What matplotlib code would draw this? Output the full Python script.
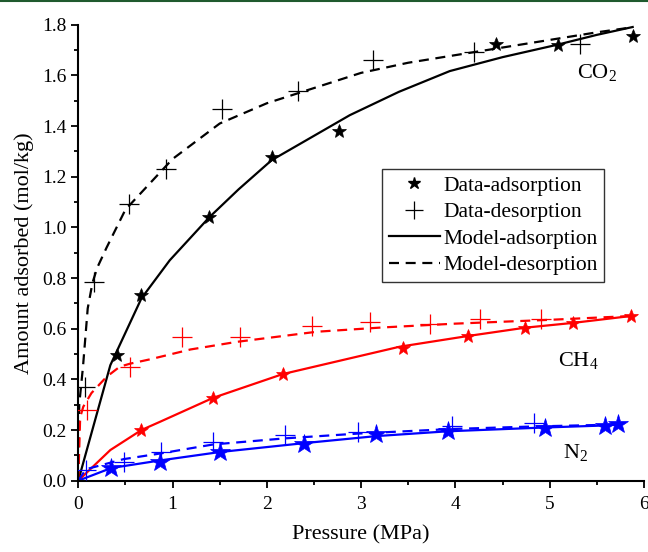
import numpy as np
import matplotlib
matplotlib.use("Agg")
import matplotlib.pyplot as plt
from matplotlib.lines import Line2D
from matplotlib.ticker import MultipleLocator, FormatStrFormatter

plt.rcParams['font.family'] = ['Liberation Serif', 'DejaVu Serif']
plt.rcParams['mathtext.fontset'] = 'custom'
plt.rcParams['mathtext.rm'] = 'Liberation Serif'

# ---- measured data (pressure in MPa, amount in mol/kg) ----
co2_ads_p = [0.41, 0.67, 1.39, 2.05, 2.76, 4.43, 5.09, 5.88]
co2_ads_q = [0.495, 0.735, 1.04, 1.278, 1.38, 1.725, 1.721, 1.756]
co2_des_p = [0.07, 0.17, 0.54, 0.93, 1.52, 2.33, 3.13, 4.20, 5.32]
co2_des_q = [0.371, 0.785, 1.092, 1.23, 1.467, 1.537, 1.662, 1.692, 1.725]

ch4_ads_p = [0.67, 1.43, 2.17, 3.44, 4.13, 4.74, 5.25, 5.86]
ch4_ads_q = [0.20, 0.327, 0.421, 0.525, 0.571, 0.604, 0.623, 0.650]
ch4_des_p = [0.09, 0.55, 1.10, 1.71, 2.48, 3.09, 3.73, 4.26, 4.91]
ch4_des_q = [0.279, 0.447, 0.568, 0.566, 0.61, 0.627, 0.617, 0.638, 0.638]

n2_ads_p = [0.35, 0.87, 1.50, 2.39, 3.16, 3.92, 4.95, 5.59, 5.72]
n2_ads_q = [0.05, 0.073, 0.114, 0.145, 0.184, 0.196, 0.207, 0.216, 0.222]
n2_des_p = [0.08, 0.48, 0.88, 1.43, 2.19, 2.97, 3.96, 4.83]
n2_des_q = [0.042, 0.072, 0.112, 0.154, 0.18, 0.193, 0.216, 0.226]

# ---- model curves ----
co2_mads_p = [0, 0.34, 0.67, 0.97, 1.39, 1.7, 2.05, 2.4, 2.88, 3.4, 3.94, 4.5, 5.08, 5.5, 5.88]
co2_mads_q = [0, 0.456, 0.72, 0.87, 1.04, 1.15, 1.265, 1.34, 1.443, 1.535, 1.617, 1.672, 1.721, 1.76, 1.791]
co2_mdes_p = [0, 0.01, 0.05, 0.1, 0.15, 0.2, 0.3, 0.5, 0.75, 1.0, 1.5, 2.0, 2.5, 3.0, 3.5, 4.0, 4.5, 5.0, 5.5, 5.88]
co2_mdes_q = [0, 0.30, 0.45, 0.68, 0.78, 0.84, 0.92, 1.07, 1.17, 1.27, 1.41, 1.49, 1.55, 1.61, 1.65, 1.68, 1.71, 1.74, 1.77, 1.79]

ch4_mads_p = [0, 0.34, 0.67, 0.87, 1.43, 2.17, 3.41, 4.13, 4.74, 5.25, 5.86]
ch4_mads_q = [0, 0.121, 0.20, 0.233, 0.327, 0.421, 0.529, 0.571, 0.604, 0.623, 0.650]
ch4_mdes_p = [0, 0.02, 0.053, 0.14, 0.30, 0.44, 0.55, 0.76, 1.19, 1.68, 2.53, 3.23, 4.0, 5.0, 5.86]
ch4_mdes_q = [0, 0.25, 0.292, 0.346, 0.41, 0.45, 0.462, 0.479, 0.518, 0.548, 0.588, 0.605, 0.62, 0.635, 0.65]

n2_mads_p = [0, 0.35, 0.87, 1.50, 2.39, 3.16, 3.92, 4.95, 5.59, 5.75]
n2_mads_q = [0, 0.05, 0.08, 0.113, 0.148, 0.176, 0.195, 0.21, 0.218, 0.222]
n2_mdes_p = [0, 0.08, 0.48, 0.88, 1.43, 2.19, 2.97, 3.96, 4.83, 5.75]
n2_mdes_q = [0, 0.045, 0.085, 0.108, 0.143, 0.167, 0.186, 0.204, 0.214, 0.222]

gases = [
    # label, colour, star size, plus size, data + model arrays, label position
    ('CO$_2$', 'black', 10, 14, co2_ads_p, co2_ads_q, co2_des_p, co2_des_q,
     co2_mads_p, co2_mads_q, co2_mdes_p, co2_mdes_q, (5.5, 1.61)),
    ('CH$_4$', 'red', 10, 15, ch4_ads_p, ch4_ads_q, ch4_des_p, ch4_des_q,
     ch4_mads_p, ch4_mads_q, ch4_mdes_p, ch4_mdes_q, (5.3, 0.47)),
    ('N$_2$', 'blue', 15, 14, n2_ads_p, n2_ads_q, n2_des_p, n2_des_q,
     n2_mads_p, n2_mads_q, n2_mdes_p, n2_mdes_q, (5.27, 0.11)),
]

fig = plt.figure(figsize=(6.48, 5.52), dpi=100)
ax = fig.add_axes([0.1208, 0.1292, 0.873, 0.826])

dash = (0, (4.5, 3))
for name, c, ss, ps, ap, aq, dp, dq, map_, maq, mdp, mdq, lpos in gases:
    ax.plot(map_, maq, color=c, lw=1.6, zorder=2)
    ax.plot(mdp, mdq, color=c, lw=1.6, linestyle=dash, zorder=2)
    ax.plot(ap, aq, linestyle='none', marker='*', color=c, markersize=ss,
            markeredgewidth=0.5, zorder=3)
    ax.plot(dp, dq, linestyle='none', marker='+', color=c, markersize=ps,
            markeredgewidth=0.9, zorder=3)
    ax.text(lpos[0], lpos[1], name, fontsize=16, ha='center', va='center')

ax.set_xlim(0, 6)
ax.set_ylim(0, 1.8)
ax.xaxis.set_major_locator(MultipleLocator(1))
ax.xaxis.set_minor_locator(MultipleLocator(0.5))
ax.yaxis.set_major_locator(MultipleLocator(0.2))
ax.yaxis.set_minor_locator(MultipleLocator(0.1))
ax.yaxis.set_major_formatter(FormatStrFormatter('%.1f'))
ax.tick_params(which='major', direction='out', length=5, width=1.3, labelsize=14)
ax.tick_params(which='minor', direction='out', length=3, width=1.3)
ax.tick_params(axis='x', pad=6)
for s in ['top', 'right']:
    ax.spines[s].set_visible(False)
for s in ['left', 'bottom']:
    ax.spines[s].set_linewidth(1.5)

ax.set_xlabel('Pressure (MPa)', fontsize=16, labelpad=9)
ax.set_ylabel('Amount adsorbed (mol/kg)', fontsize=16, labelpad=6)

handles = [
    Line2D([], [], linestyle='none', marker='*', color='black', markersize=9),
    Line2D([], [], linestyle='none', marker='+', color='black', markersize=13, markeredgewidth=0.9),
    Line2D([], [], color='black', lw=1.6),
    Line2D([], [], color='black', lw=1.6, linestyle=dash),
]
labels = ['Data-adsorption', 'Data-desorption', 'Model-adsorption', 'Model-desorption']
leg = ax.legend(handles, labels, loc='upper left', bbox_to_anchor=(0.537, 0.683),
                fontsize=15.5, frameon=True, fancybox=False, handlelength=2.4,
                handletextpad=0.15, borderpad=0.3, labelspacing=0.3, borderaxespad=0)
leg.get_frame().set_edgecolor('black')
leg.get_frame().set_linewidth(1.0)

# thin frame line along the top edge
fig.add_artist(Line2D([0, 1], [0.999, 0.999], transform=fig.transFigure,
                      color='#1f5a2e', lw=1.5))

fig.savefig('out.png', dpi=100)
